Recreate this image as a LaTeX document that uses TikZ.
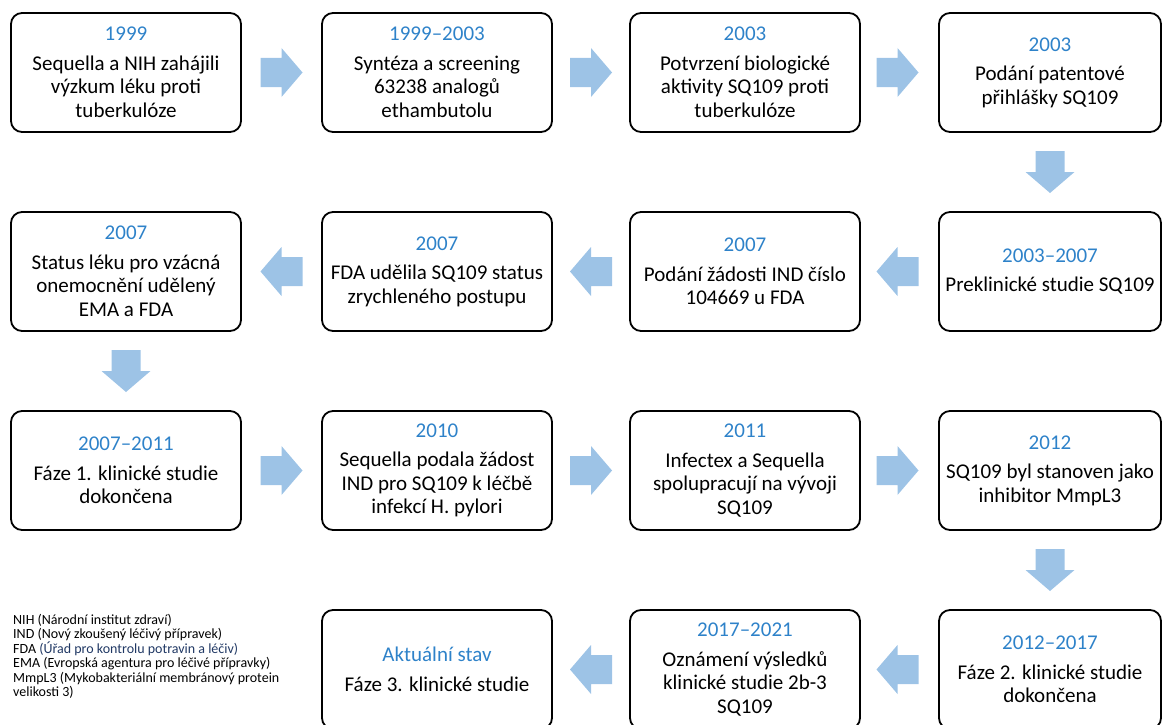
\documentclass[tikz,border=0pt]{standalone}
\usepackage{fontspec}
\setmainfont{Carlito}
\usetikzlibrary{calc}
\definecolor{yearblue}{HTML}{2E82C9}
\definecolor{arrowblue}{HTML}{9DC3E6}
\definecolor{linkblue}{HTML}{203864}
\tikzset{
	box/.style={draw, line width=1.8pt, rounded corners=11pt, minimum width=230pt, minimum height=119pt, align=center, inner sep=2pt, font=\fontsize{21}{23.5}\selectfont},
	narrow/.style={minimum width=222pt},
	legend/.style={align=left, inner sep=0pt, font=\fontsize{14}{14.4}\selectfont},
	blkarrow/.pic={\fill[arrowblue] (-21,-14.5)--(0,-14.5)--(0,-24.5)--(21,0)--(0,24.5)--(0,14.5)--(-21,14.5)--cycle;}
}
\newcommand\yr[1]{\textcolor{yearblue}{#1}\\[6pt]}
\begin{document}
\begin{tikzpicture}[x=1pt, y=-1pt, line join=round]
	\path[use as bounding box, clip] (0,0) rectangle (1162,725);
	\def\ca{126} \def\cb{437} \def\cc{745} \def\cd{1050}
	\def\ra{72.5} \def\rb{271.5} \def\rc{470.5} \def\rd{669.5}
	\node[box] (a1) at (\ca,\ra) {\yr{1999}Sequella a NIH zahájili\\výzkum léku proti\\tuberkulóze};
	\node[box] (a2) at (\cb,\ra) {\yr{1999–2003}Syntéza a screening\\63238 analogů\\ethambutolu};
	\node[box] (a3) at (\cc,\ra) {\yr{2003}Potvrzení biologické\\aktivity SQ109 proti\\tuberkulóze};
	\node[box, narrow] (a4) at (\cd,\ra) {\yr{2003}Podání patentové\\přihlášky SQ109};
	\node[box, narrow] (b4) at (\cd,\rb) {\yr{2003–2007}Preklinické studie SQ109};
	\node[box] (b3) at (\cc,\rb) {\yr{2007}Podání žádosti IND číslo\\104669 u FDA};
	\node[box] (b2) at (\cb,\rb) {\yr{2007}FDA udělila SQ109 status\\zrychleného postupu};
	\node[box] (b1) at (\ca,\rb) {\yr{2007}Status léku pro vzácná\\onemocnění udělený\\EMA a FDA};
	\node[box] (c1) at (\ca,\rc) {\yr{2007–2011}Fáze 1. klinické studie\\dokončena};
	\node[box] (c2) at (\cb,\rc) {\yr{2010}Sequella podala žádost\\IND pro SQ109 k léčbě\\infekcí H. pylori};
	\node[box] (c3) at (\cc,\rc) {\yr{2011}Infectex a Sequella\\spolupracují na vývoji\\SQ109};
	\node[box, narrow] (c4) at (\cd,\rc) {\yr{2012}SQ109 byl stanoven jako\\inhibitor MmpL3};
	\node[box, narrow] (d4) at (\cd,\rd) {\yr{2012–2017}Fáze 2. klinické studie\\dokončena};
	\node[box] (d3) at (\cc,\rd) {\yr{2017–2021}Oznámení výsledků\\klinické studie 2b-3\\SQ109};
	\node[box] (d2) at (\cb,\rd) {\yr{Aktuální stav}Fáze 3. klinické studie};
	\foreach \p/\q/\r in {a1/a2/0, a2/a3/0, a3/a4/0, a4/b4/-90, b4/b3/180, b3/b2/180, b2/b1/180, b1/c1/-90, c1/c2/0, c2/c3/0, c3/c4/0, c4/d4/-90, d4/d3/180, d3/d2/180}
		\pic[rotate=\r] at ($(\p)!.5!(\q)$) {blkarrow};
	\node[legend, anchor=north west] (abbr) at (13,614) {NIH (Národní institut zdraví)\\IND (Nový zkoušený léčivý přípravek)\\FDA \textcolor{linkblue}{(Úřad pro kontrolu potravin a léčiv)}\\EMA (Evropská agentura pro léčivé přípravky)\\MmpL3 (Mykobakteriální membránový protein\\velikosti 3)};
\end{tikzpicture}
\end{document}
